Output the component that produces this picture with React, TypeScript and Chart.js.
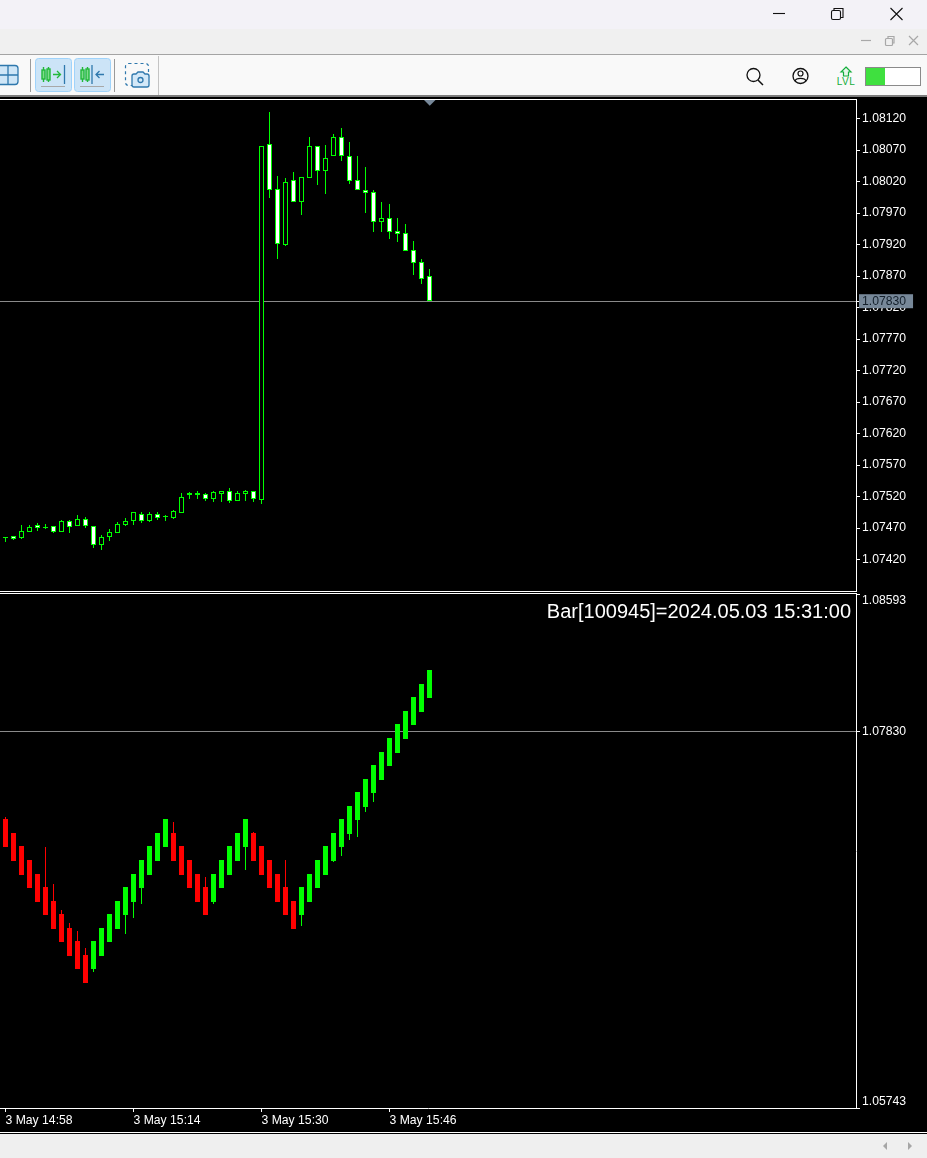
import React, { useEffect, useRef } from "react";
import { Chart, registerables } from "chart.js";

Chart.register(...registerables);

// ---------- upper panel: price candles (one bar per minute, from 3 May 14:58) ----------
const priceOpen = [
  1.07454, 1.07457, 1.07454, 1.07464, 1.07475, 1.07472, 1.07473, 1.07463, 1.07481, 1.07473,
  1.07485, 1.07473, 1.07443, 1.07456, 1.07462, 1.07475, 1.07481, 1.07493, 1.07481, 1.07493,
  1.07489, 1.07486, 1.07494, 1.07525, 1.07526, 1.07524, 1.07516, 1.07524, 1.07528, 1.07513,
  1.07524, 1.07528, 1.07514, 1.08079, 1.08008, 1.0792, 1.08022, 1.07988, 1.08026, 1.08076,
  1.08037, 1.0806, 1.0809, 1.0806, 1.08022, 1.08006, 1.08003, 1.07956, 1.07962, 1.07941,
  1.07938, 1.07912, 1.07893, 1.0787,
];
const priceHigh = [
  1.07456, 1.07457, 1.07475, 1.07475, 1.07478, 1.07476, 1.07473, 1.07483, 1.07483, 1.07491,
  1.07488, 1.07473, 1.07459, 1.07468, 1.0748, 1.07486, 1.07495, 1.07495, 1.07495, 1.07495,
  1.07491, 1.07499, 1.07526, 1.07527, 1.07529, 1.07526, 1.07529, 1.07528, 1.07534, 1.07528,
  1.0753, 1.07528, 1.08076, 1.0813, 1.08029, 1.08025, 1.08035, 1.08027, 1.08091, 1.08076,
  1.08078, 1.08095, 1.08105, 1.08083, 1.08061, 1.08043, 1.08007, 1.07988, 1.07984, 1.07962,
  1.07953, 1.07926, 1.07897, 1.07881,
];
const priceLow = [
  1.07447, 1.07451, 1.07453, 1.07464, 1.07465, 1.07468, 1.07462, 1.07463, 1.07462, 1.07473,
  1.0747, 1.07438, 1.07435, 1.07449, 1.07462, 1.07473, 1.07475, 1.07478, 1.0748, 1.07483,
  1.07481, 1.07484, 1.07494, 1.07516, 1.07516, 1.07513, 1.07511, 1.07511, 1.0751, 1.07513,
  1.07513, 1.07511, 1.07508, 1.07994, 1.07897, 1.07918, 1.07987, 1.07967, 1.08026, 1.08014,
  1.08, 1.0806, 1.08053, 1.08016, 1.08006, 1.0797, 1.0794, 1.0794, 1.07929, 1.07924,
  1.0791, 1.07872, 1.07857, 1.0783,
];
const priceClose = [
  1.07455, 1.07453, 1.07466, 1.07471, 1.0747, 1.07472, 1.07464, 1.07481, 1.07472, 1.07485,
  1.07473, 1.07443, 1.07455, 1.07463, 1.07476, 1.07481, 1.07495, 1.07481, 1.07493, 1.07486,
  1.07487, 1.07497, 1.0752, 1.07522, 1.07523, 1.07516, 1.07527, 1.07528, 1.07513, 1.07525,
  1.07528, 1.07516, 1.08076, 1.08007, 1.07921, 1.0802, 1.07987, 1.08027, 1.08076, 1.08036,
  1.08058, 1.0809, 1.0806, 1.08021, 1.08007, 1.08001, 1.07956, 1.07962, 1.0794, 1.07937,
  1.0791, 1.07891, 1.07866, 1.0783,
];

// ---------- lower panel: second series ----------
const lowerOpen = [
  1.07346, 1.07268, 1.07196, 1.07118, 1.07041, 1.06968, 1.06891, 1.06819, 1.06741, 1.06669,
  1.06591, 1.06514, 1.06586, 1.06664, 1.06736, 1.06813, 1.06885, 1.06963, 1.07035, 1.07113,
  1.0719, 1.07268, 1.07196, 1.07118, 1.07041, 1.06968, 1.06885, 1.06963, 1.07035, 1.07113,
  1.0719, 1.07268, 1.07196, 1.07118, 1.07041, 1.06968, 1.06891, 1.06813, 1.06885, 1.06963,
  1.07035, 1.07113, 1.0719, 1.07262, 1.0734, 1.07412, 1.0749, 1.07562, 1.07639, 1.07711,
  1.07789, 1.07867, 1.07939, 1.08016,
];
const lowerHigh = [
  1.07357, 1.07268, 1.07196, 1.07118, 1.07041, 1.0719, 1.06985, 1.06841, 1.06769, 1.06725,
  1.0663, 1.06669, 1.06741, 1.06819, 1.06891, 1.06968, 1.07041, 1.07118, 1.07196, 1.07268,
  1.07346, 1.07329, 1.07196, 1.07118, 1.07041, 1.07024, 1.07041, 1.07118, 1.07196, 1.07268,
  1.07345, 1.07273, 1.07196, 1.07118, 1.07041, 1.07118, 1.06891, 1.06968, 1.07041, 1.07118,
  1.07196, 1.07268, 1.07345, 1.07418, 1.07495, 1.07567, 1.07645, 1.07717, 1.07795, 1.07872,
  1.07944, 1.08022, 1.08094, 1.08172,
];
const lowerLow = [
  1.0719, 1.07113, 1.07035, 1.06963, 1.06885, 1.06813, 1.06736, 1.06664, 1.06586, 1.06514,
  1.06436, 1.06497, 1.06586, 1.06664, 1.06736, 1.06708, 1.06797, 1.06874, 1.07035, 1.07113,
  1.0719, 1.07113, 1.07035, 1.06963, 1.06885, 1.06813, 1.06874, 1.06963, 1.07035, 1.07113,
  1.07063, 1.07113, 1.07035, 1.06963, 1.06885, 1.06813, 1.06736, 1.06752, 1.06885, 1.06963,
  1.07035, 1.07107, 1.0714, 1.07229, 1.07246, 1.07384, 1.0744, 1.07562, 1.07639, 1.07711,
  1.07789, 1.07867, 1.07939, 1.08016,
];
const lowerClose = [
  1.0719, 1.07113, 1.07035, 1.06963, 1.06885, 1.06813, 1.06736, 1.06664, 1.06586, 1.06514,
  1.06436, 1.06669, 1.06741, 1.06819, 1.06891, 1.06968, 1.07041, 1.07118, 1.07196, 1.07268,
  1.07346, 1.07113, 1.07035, 1.06963, 1.06885, 1.06813, 1.07041, 1.07118, 1.07196, 1.07268,
  1.07345, 1.07113, 1.07035, 1.06963, 1.06885, 1.06813, 1.06736, 1.06968, 1.07041, 1.07118,
  1.07196, 1.07268, 1.07345, 1.07418, 1.07495, 1.07567, 1.07645, 1.07717, 1.07795, 1.07872,
  1.07944, 1.08022, 1.08094, 1.08172,
];

// ---------- axes ----------
const upperTicks = [
  1.0812, 1.0807, 1.0802, 1.0797, 1.0792, 1.0787, 1.0782, 1.0777, 1.0772, 1.0767, 1.0762,
  1.0757, 1.0752, 1.0747, 1.0742, 1.0783,
];
const lowerTicks = [1.08593, 1.0783, 1.05743];
const timeTickBars = [0, 16, 32, 48];
const timeTickLabels = ["3 May 14:58", "3 May 15:14", "3 May 15:30", "3 May 15:46"];
const currentLevel = 1.0783;
const barCaption = "Bar[100945]=2024.05.03 15:31:00";

const UP = "#00ff00";
const DOWN = "#ff0000";
const WHITE = "#ffffff";
const LEVEL = "#8a8a8a";
const FONT = "'Liberation Sans', Arial, sans-serif";
const tickFont = { family: FONT, size: 12.2, lineHeight: "13px" };

const barIdx = priceOpen.map((_, i) => i);

const snapBars = {
  id: "snapBars",
  beforeDatasetsDraw(chart: any) {
    chart.data.datasets.forEach((_: any, di: number) => {
      chart.getDatasetMeta(di).data.forEach((el: any) => {
        let top = Math.round(Math.min(el.y, el.base));
        let bottom = Math.round(Math.max(el.y, el.base));
        if (bottom - top < 1) bottom = top + 1;
        el.y = top;
        el.base = bottom;
      });
    });
  },
};

const caption = {
  id: "caption",
  afterDraw(chart: any) {
    const { ctx, chartArea } = chart;
    ctx.save();
    ctx.font = `20px ${FONT}`;
    ctx.fillStyle = WHITE;
    ctx.textAlign = "right";
    ctx.textBaseline = "middle";
    ctx.fillText(barCaption, chartArea.right - 5, chartArea.top + 18);
    ctx.restore();
  },
};

function yAxis(min: number, max: number, ticks: number[], opts: any) {
  return {
    type: "linear",
    position: "right",
    min,
    max,
    afterBuildTicks(scale: any) {
      scale.ticks = ticks.map((value) => ({ value }));
    },
    afterFit(scale: any) {
      scale.width = 71;
      scale.paddingTop = 0;
      scale.paddingBottom = 0;
    },
    border: { display: true, color: WHITE, width: 1 },
    grid: {
      color: (c: any) => (c.tick && c.tick.value === currentLevel ? LEVEL : "rgba(0,0,0,0)"),
      tickColor: WHITE,
      tickLength: 4,
      lineWidth: 1,
    },
    ticks: {
      autoSkip: false,
      color: opts.color || WHITE,
      font: tickFont,
      padding: 2,
      maxRotation: 0,
      callback: opts.label,
      ...(opts.ticks || {}),
    },
  };
}

function baseOptions(): any {
  return {
    responsive: false,
    animation: false,
    events: [],
    plugins: { legend: { display: false }, tooltip: { enabled: false } },
  };
}

const xRange = { min: -0.6875, max: 106.3125 };

export default function App() {
  const upperRef = useRef<HTMLCanvasElement>(null);
  const lowerRef = useRef<HTMLCanvasElement>(null);

  useEffect(() => {
    const upper = new Chart(upperRef.current as HTMLCanvasElement, {
      type: "bar",
      data: {
        datasets: [
          {
            data: barIdx.map((i) => ({ x: i, y: [priceOpen[i], priceClose[i]] })),
            barThickness: 5,
            grouped: false,
            inflateAmount: 0,
            borderWidth: 1,
            borderSkipped: false,
            borderColor: UP,
            backgroundColor: barIdx.map((i) => (priceClose[i] >= priceOpen[i] ? "#000000" : WHITE)),
          },
          {
            data: barIdx.map((i) => ({ x: i, y: [priceLow[i], priceHigh[i]] })),
            barThickness: 1,
            grouped: false,
            inflateAmount: 0,
            borderWidth: 0,
            backgroundColor: UP,
          },
        ],
      } as any,
      options: {
        ...baseOptions(),
        layout: { padding: { top: 2, bottom: 1, left: 0, right: 0 } },
        scales: {
          x: {
            type: "linear",
            display: false,
            offset: false,
            ...xRange,
          },
          y: yAxis(1.0737, 1.08151, upperTicks, {
            color: (c: any) => (c.index === upperTicks.length - 1 ? "#14202c" : WHITE),
            label: (v: number) => v.toFixed(5),
            ticks: {
              showLabelBackdrop: (c: any) => c.index === upperTicks.length - 1,
              backdropColor: (c: any) => (c.index === upperTicks.length - 1 ? "#778899" : "rgba(0,0,0,0)"),
              backdropPadding: { left: 3, right: 7, top: 0.5, bottom: 0.5 },
            },
          }),
        },
      } as any,
      plugins: [snapBars],
    });

    const lower = new Chart(lowerRef.current as HTMLCanvasElement, {
      type: "bar",
      data: {
        datasets: [
          {
            data: barIdx.map((i) => ({ x: i, y: [lowerOpen[i], lowerClose[i]] })),
            barThickness: 5,
            grouped: false,
            inflateAmount: 0,
            borderWidth: 0,
            backgroundColor: barIdx.map((i) => (lowerClose[i] >= lowerOpen[i] ? UP : DOWN)),
          },
          {
            data: barIdx.map((i) => ({ x: i, y: [lowerLow[i], lowerHigh[i]] })),
            barThickness: 1,
            grouped: false,
            inflateAmount: 0,
            borderWidth: 0,
            backgroundColor: barIdx.map((i) => (lowerClose[i] >= lowerOpen[i] ? UP : DOWN)),
          },
        ],
      } as any,
      options: {
        ...baseOptions(),
        layout: { padding: { top: 0, bottom: 1, left: 0, right: 0 } },
        scales: {
          x: {
            type: "linear",
            position: "bottom",
            offset: false,
            ...xRange,
            afterBuildTicks(scale: any) {
              scale.ticks = timeTickBars.map((value) => ({ value }));
            },
            afterFit(scale: any) {
              scale.height = 25;
              scale.paddingLeft = 0;
              scale.paddingRight = 0;
            },
            border: { display: true, color: WHITE, width: 1 },
            grid: { offset: false, color: "rgba(0,0,0,0)", tickColor: WHITE, tickLength: 4 },
            ticks: {
              autoSkip: false,
              maxRotation: 0,
              minRotation: 0,
              align: "start",
              color: WHITE,
              font: tickFont,
              padding: 2,
              callback: (v: number) => timeTickLabels[timeTickBars.indexOf(v)],
            },
          },
          y: yAxis(1.05743, 1.08593, lowerTicks, {
            label: (v: number) => {
              const s = v.toFixed(5);
              if (v === lowerTicks[0]) return ["", s];
              if (v === lowerTicks[lowerTicks.length - 1]) return [s, ""];
              return s;
            },
          }),
        },
      } as any,
      plugins: [snapBars, caption],
    });

    return () => {
      upper.destroy();
      lower.destroy();
    };
  }, []);

  const abs = (left: number, top: number, width: number, height: number, background: string): React.CSSProperties => ({
    position: "absolute",
    left,
    top,
    width,
    height,
    background,
  });

  const iconBlue = "#2f78ad";
  const candlesGreen = "#22b83a";

  return (
    <div style={{ position: "absolute", left: 0, top: 0, width: 927, height: 1158, overflow: "hidden", background: "#000" }}>
      {/* window chrome */}
      <div style={abs(0, 0, 927, 29, "#f3f2f7")} />
      <div style={abs(0, 29, 927, 25, "#f0f0f0")} />
      <div style={abs(0, 54, 927, 1, "#a4a4a4")} />
      <div style={abs(0, 55, 927, 40, "#f9f9f9")} />
      <div style={abs(0, 95, 927, 2, "#7d7d7d")} />
      <svg style={{ position: "absolute", left: 0, top: 0 }} width={927} height={97}>
        {/* title-bar buttons */}
        <g stroke="#111" strokeWidth={1.1} fill="none">
          <path d="M773 13.5H785" />
          <rect x={831.5} y={10.5} width={9} height={9} rx={1.5} />
          <path d="M834 10V8.5H843V17.5H841" />
          <path d="M890.5 8L902.5 20M902.5 8L890.5 20" />
        </g>
        <g stroke="#a8a8a8" strokeWidth={1.2} fill="none">
          <path d="M861 40.5H871" />
          <rect x={885.5} y={38.5} width={7} height={7} rx={1} />
          <path d="M888 38V36.5H894V43H893" />
          <path d="M909 36L918 45M918 36L909 45" />
        </g>
        {/* layout icon */}
        <rect x={-6} y={65.5} width={24} height={19} rx={3} fill="#cfe6f7" stroke={iconBlue} strokeWidth={1.3} />
        <path d="M8 65.5V84.5M-6 75H18" stroke={iconBlue} strokeWidth={1.3} />
        <rect x={30} y={59} width={1} height={33} fill="#9a9a9a" />
        {/* scroll buttons */}
        <rect x={35.5} y={58.5} width={36} height={33} rx={3} fill="#cce4f7" stroke="#9fd3fb" />
        <rect x={74.5} y={58.5} width={36} height={33} rx={3} fill="#cce4f7" stroke="#9fd3fb" />
        <g stroke={candlesGreen} strokeWidth={1.4} fill="#7fdc8c">
          <path d="M43.5 67V82M48.5 67V82" />
          <rect x={42} y={70} width={3} height={9} />
          <rect x={47} y={69} width={3} height={11} />
          <path d="M82.5 67V82M87.5 67V82" />
          <rect x={81} y={70} width={3} height={9} />
          <rect x={86} y={69} width={3} height={11} />
        </g>
        <path d="M53 74.5H60M57 71L60.5 74.5L57 78" stroke={candlesGreen} strokeWidth={1.3} fill="none" />
        <path d="M64.5 65V84" stroke={iconBlue} strokeWidth={1.3} />
        <path d="M92 65V84" stroke={iconBlue} strokeWidth={1.3} />
        <path d="M104 74.5H96M99.5 71L96 74.5L99.5 78" stroke={iconBlue} strokeWidth={1.3} fill="none" />
        <path d="M41 86.5H65M80 86.5H104" stroke="#a8a8a8" strokeWidth={1.2} />
        <rect x={114} y={59} width={1} height={33} fill="#9a9a9a" />
        {/* camera */}
        <rect x={125.5} y={63.5} width={23} height={22} rx={3} fill="none" stroke={iconBlue} strokeWidth={1.2} strokeDasharray="3 3" />
        <path
          d="M132 76Q132 74 134 74H136L138 72H143L145 74H147Q149 74 149 76V85Q149 87 147 87H134Q132 87 132 85Z"
          fill="#d3e8f8"
          stroke={iconBlue}
          strokeWidth={1.3}
        />
        <circle cx={140.5} cy={80} r={2.5} fill="none" stroke={iconBlue} strokeWidth={1.3} />
        <rect x={158} y={56} width={1} height={39} fill="#c4c4c4" />
        {/* right tools */}
        <circle cx={753.5} cy={75} r={6.5} fill="none" stroke="#111" strokeWidth={1.3} />
        <path d="M758 80L763 85" stroke="#111" strokeWidth={1.5} />
        <circle cx={800.5} cy={76} r={7.5} fill="none" stroke="#111" strokeWidth={1.3} />
        <circle cx={800.5} cy={73.5} r={2.5} fill="none" stroke="#111" strokeWidth={1.2} />
        <path d="M795 81C796 77.5 805 77.5 806 81" fill="none" stroke="#111" strokeWidth={1.2} />
        <path d="M846 67L851 72H848.5V76H843.5V72H841Z" fill="#e7f7ea" stroke="#14ad3c" strokeWidth={1.2} />
        <text x={846} y={85} textAnchor="middle" fontFamily={FONT} fontSize={10} letterSpacing={0.5} fill="#14ad3c">LVL</text>
        <rect x={865.5} y={67.5} width={55} height={18} fill="#ffffff" stroke="#8a8a8a" />
        <rect x={866} y={68} width={19} height={17} fill="#3fe03f" />
      </svg>

      {/* panels */}
      <canvas ref={upperRef} width={927} height={495} style={{ position: "absolute", left: 0, top: 97, display: "block" }} />
      <canvas ref={lowerRef} width={927} height={540} style={{ position: "absolute", left: 0, top: 594, display: "block" }} />

      {/* panel frame */}
      <div style={abs(0, 99, 857, 1, WHITE)} />
      <div style={abs(0, 591, 857, 1, WHITE)} />
      <div style={abs(0, 593, 857, 1, WHITE)} />
      <div style={abs(0, 1132, 927, 1, WHITE)} />
      <div style={abs(0, 1134, 927, 24, "#efefef")} />
      <svg style={{ position: "absolute", left: 0, top: 0, pointerEvents: "none" }} width={927} height={1158}>
        <path d="M424 100H435.5L429.75 105.8Z" fill="#778899" />
        <path d="M883 1146L887 1142V1150Z" fill="#a6a6a6" />
        <path d="M912 1146L908 1142V1150Z" fill="#a6a6a6" />
      </svg>
    </div>
  );
}
